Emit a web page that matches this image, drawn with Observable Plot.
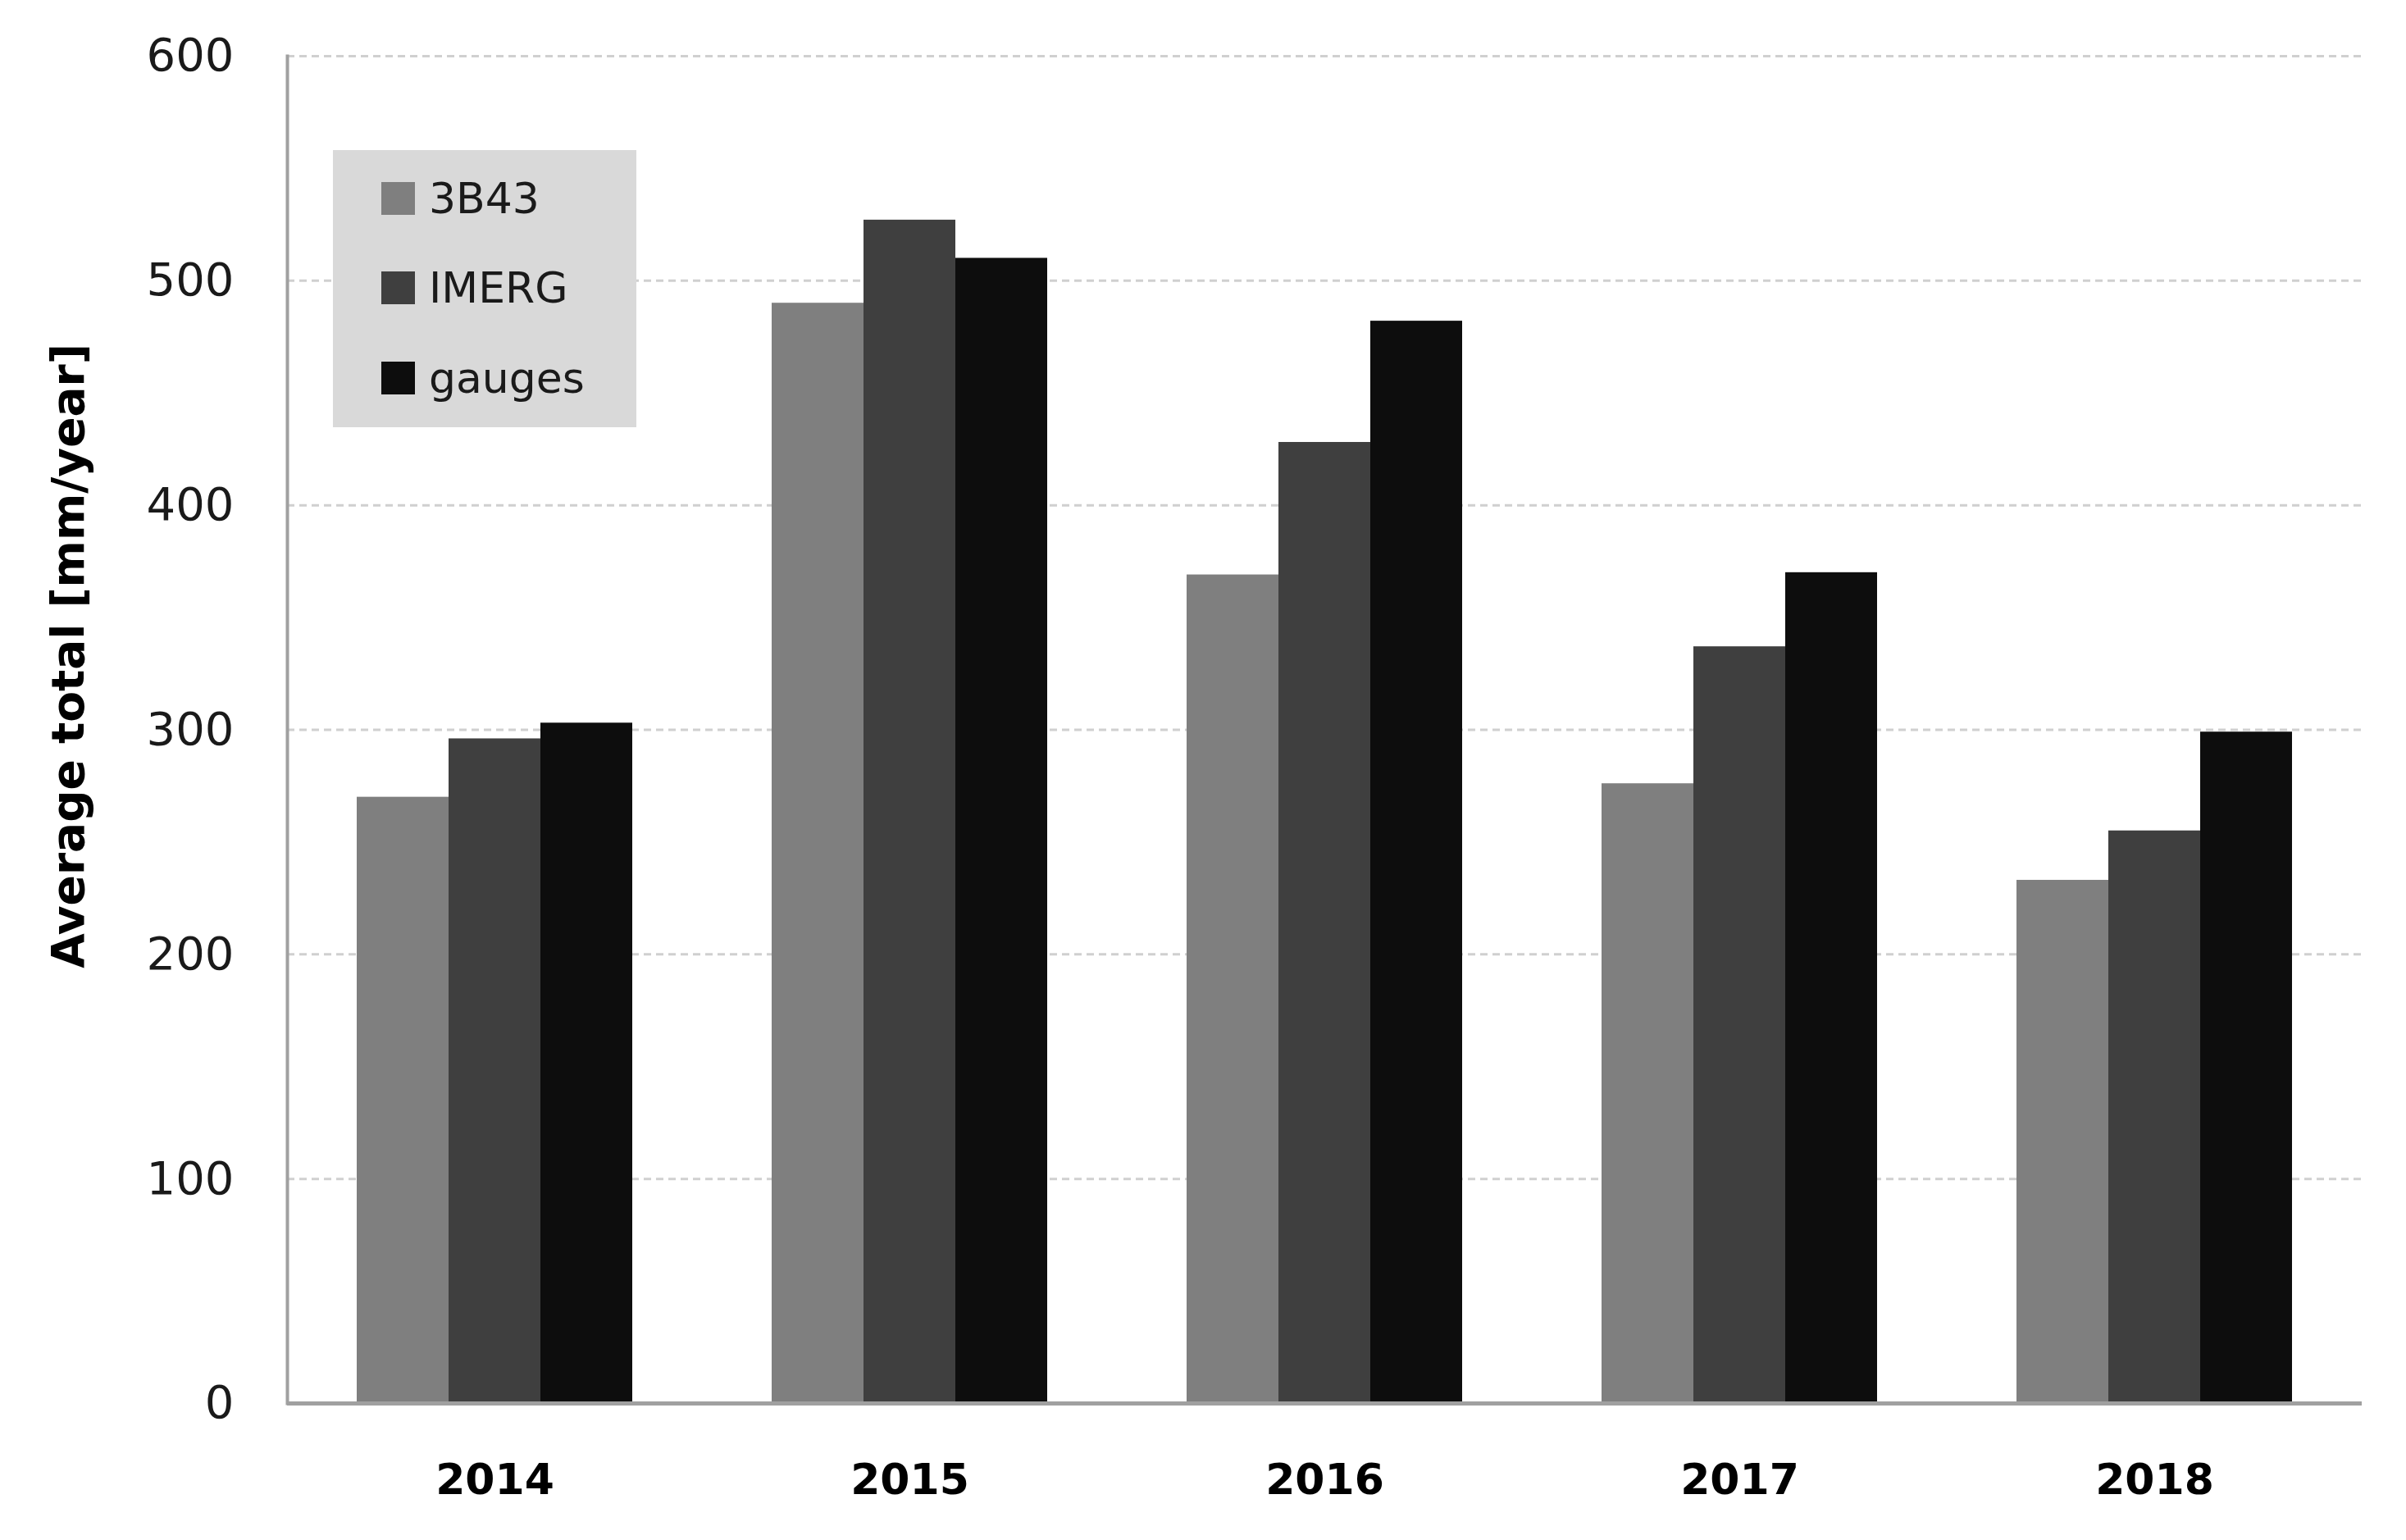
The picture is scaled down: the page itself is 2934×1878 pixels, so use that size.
<!DOCTYPE html>
<html>
<head>
<meta charset="utf-8">
<script src="https://cdn.jsdelivr.net/npm/d3@7"></script>
<script src="https://cdn.jsdelivr.net/npm/@observablehq/plot@0.6"></script>
<style>
  html, body { margin: 0; padding: 0; background: #ffffff; }
  #wrap { position: relative; width: 2934px; height: 1878px; font-family: "DejaVu Sans", sans-serif; }
  .layer { position: absolute; left: 0; top: 0; }
  #legend { position: absolute; left: 406px; top: 183px; width: 370px; height: 338px; background: #d9d9d9; }
  .item { position: absolute; left: 59px; height: 40px; display: flex; align-items: center; font-size: 52px; color: #1a1a1a; white-space: nowrap; }
  .sw { width: 41px; height: 40px; margin-right: 17px; flex: none; }
</style>
</head>
<body>
<div id="wrap"><div id="back" class="layer"></div><div id="front" class="layer"></div><div id="legend"></div></div>
<script>
const years = ["2014", "2015", "2016", "2017", "2018"];
const series = ["3B43", "IMERG", "gauges"];
const values3B43 = [270, 490, 369, 276, 233];
const valuesIMERG = [296, 527, 428, 337, 255];
const valuesGauges = [303, 510, 482, 370, 299];
const seriesColors = ["#7f7f7f", "#3f3f3f", "#0d0d0d"];
const yTicks = [0, 100, 200, 300, 400, 500, 600];
const yTitle = "Average total [mm/year]";

const seriesValues = [values3B43, valuesIMERG, valuesGauges];
const data = years.flatMap((yr, i) => series.map((s, j) => ({year: yr, series: s, value: seriesValues[j][i]})));

const layout = {
  width: 2934,
  height: 1878,
  marginLeft: 350,
  marginRight: 54,
  marginTop: 68,
  marginBottom: 167
};
const bandOpts = {domain: years, paddingInner: 1/3, paddingOuter: 1/6};

// Back layer: grid, axes, labels
const back = Plot.plot({
  ...layout,
  style: {fontFamily: "DejaVu Sans, sans-serif", background: "#ffffff", color: "#1a1a1a"},
  x: {...bandOpts, label: null, axis: null},
  y: {domain: [0, 600], axis: null},
  marks: [
    Plot.ruleY(yTicks.slice(1), {stroke: "#d0d0d0", strokeWidth: 3, strokeDasharray: "9,6"}),
    Plot.axisY(yTicks, {tickSize: 0, tickPadding: 65, fontSize: 56, label: null, fill: "#1a1a1a"}),
    Plot.axisX({tickSize: 0, tickPadding: 74, fontSize: 52, fontWeight: "bold", label: null, fill: "#000"}),
    Plot.text([yTitle], {frameAnchor: "left", textAnchor: "middle", lineAnchor: "middle", text: d => d, rotate: -90, dx: -266, dy: -90, fontSize: 55, fontWeight: "bold", fill: "#000"})
  ]
});
document.getElementById("back").appendChild(back);

// Front layer: grouped bars
const front = Plot.plot({
  ...layout,
  style: {fontFamily: "DejaVu Sans, sans-serif", background: "none"},
  fx: {...bandOpts, axis: null, label: null},
  x: {domain: series, padding: 0, axis: null},
  y: {domain: [0, 600], axis: null},
  color: {domain: series, range: seriesColors},
  marks: [
    Plot.barY(data, {fx: "year", x: "series", y: "value", fill: "series", inset: 0})
  ]
});
document.getElementById("front").appendChild(front);

// Axis lines on top (non-faceted)
const lines = Plot.plot({
  ...layout,
  style: {background: "none"},
  x: {...bandOpts, axis: null},
  y: {domain: [0, 600], axis: null},
  marks: [
    Plot.ruleY([0], {stroke: "#a0a0a0", strokeWidth: 5}),
    Plot.frame({anchor: "left", stroke: "#a0a0a0", strokeWidth: 4})
  ]
});
const linesDiv = document.createElement("div");
linesDiv.className = "layer";
linesDiv.appendChild(lines);
document.getElementById("wrap").insertBefore(linesDiv, document.getElementById("legend"));

const legend = document.getElementById("legend");
const rowTops = [39, 148, 258];
series.forEach((s, i) => {
  const item = document.createElement("div");
  item.className = "item";
  item.style.top = rowTops[i] + "px";
  const sw = document.createElement("div");
  sw.className = "sw";
  sw.style.background = seriesColors[i];
  const label = document.createElement("span");
  label.textContent = s;
  item.appendChild(sw);
  item.appendChild(label);
  legend.appendChild(item);
});
</script>
</body>
</html>
